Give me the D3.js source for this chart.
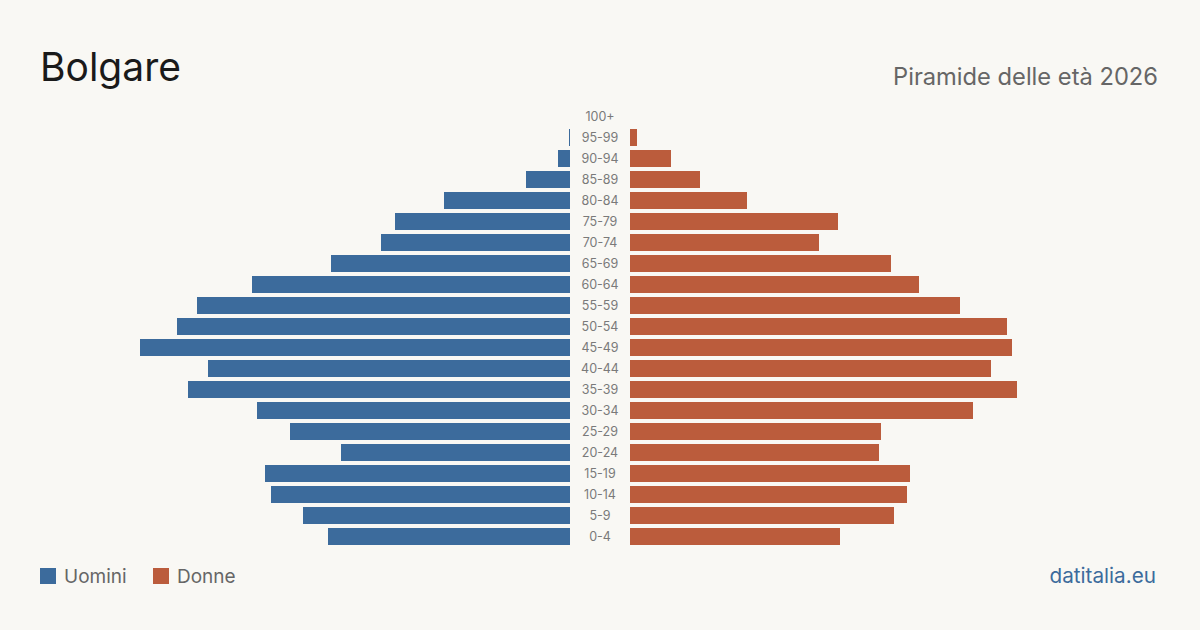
<!DOCTYPE html>
<html>
<head>
<meta charset="utf-8">
<script src="https://cdn.jsdelivr.net/npm/d3@7"></script>
<style>
  html, body { margin: 0; padding: 0; background: #f9f8f4; }
  svg { display: block; font-family: Inter, "Noto Sans", sans-serif; }
</style>
</head>
<body>
<svg id="chart" width="1200" height="630"></svg>
<script>
// age classes, top to bottom
var ages = ["100+", "95-99", "90-94", "85-89", "80-84", "75-79", "70-74", "65-69", "60-64",
            "55-59", "50-54", "45-49", "40-44", "35-39", "30-34", "25-29", "20-24",
            "15-19", "10-14", "5-9", "0-4"];
// residents (same units for both sides)
var uomini = [0, 1, 12, 44, 126, 175, 189, 239, 318, 373, 393, 430, 362, 382, 313, 280, 229, 305, 299, 267, 242];
var donne  = [0, 7, 41, 70, 117, 208, 189, 261, 289, 330, 377, 382, 361, 387, 343, 251, 249, 280, 277, 264, 210];

var blue = "#3c6b9c", orange = "#bb5c3c";

var svg = d3.select("#chart");

var y = d3.scaleBand()
    .domain(ages)
    .range([106, 547])
    .paddingInner(4 / 21)
    .paddingOuter(2 / 21);

var maxV = d3.max(uomini.concat(donne));
var w = d3.scaleLinear().domain([0, maxV]).range([0, 430]);
var leftEdge = 570, rightEdge = 630;

// men on the left
svg.append("g").selectAll("rect")
  .data(ages)
  .join("rect")
    .attr("x", function(d, i) { return leftEdge - w(uomini[i]); })
    .attr("y", function(d) { return y(d); })
    .attr("width", function(d, i) { return w(uomini[i]); })
    .attr("height", y.bandwidth())
    .attr("fill", blue);

// women on the right
svg.append("g").selectAll("rect")
  .data(ages)
  .join("rect")
    .attr("x", rightEdge)
    .attr("y", function(d) { return y(d); })
    .attr("width", function(d, i) { return w(donne[i]); })
    .attr("height", y.bandwidth())
    .attr("fill", orange);

// age labels in the middle
svg.append("g").selectAll("text")
  .data(ages)
  .join("text")
    .attr("x", 600)
    .attr("y", function(d) { return y(d) + y.bandwidth() / 2; })
    .attr("dy", "0.35em")
    .attr("text-anchor", "middle")
    .attr("font-size", 12.5)
    .attr("fill", "#7a7a7a")
    .text(function(d) { return d; });

// titles
svg.append("text")
    .attr("x", 40).attr("y", 81)
    .attr("font-size", 39)
    .attr("fill", "#1a1a1a")
    .text("Bolgare");
svg.append("text")
    .attr("x", 1158).attr("y", 85)
    .attr("text-anchor", "end")
    .attr("font-size", 23.7)
    .attr("fill", "#666")
    .text("Piramide delle età 2026");

// legend
var legend = [{label: "Uomini", color: blue, x: 40}, {label: "Donne", color: orange, x: 153}];
var lg = svg.append("g").selectAll("g").data(legend).join("g")
    .attr("transform", function(d) { return "translate(" + d.x + ",568)"; });
lg.append("rect").attr("width", 16).attr("height", 16).attr("fill", function(d) { return d.color; });
lg.append("text")
    .attr("x", 24).attr("y", 15)
    .attr("font-size", 19)
    .attr("fill", "#666")
    .text(function(d) { return d.label; });

svg.append("text")
    .attr("x", 1156).attr("y", 583)
    .attr("text-anchor", "end")
    .attr("font-size", 20.7)
    .attr("fill", "#3c6b9c")
    .text("datitalia.eu");
</script>
</body>
</html>
